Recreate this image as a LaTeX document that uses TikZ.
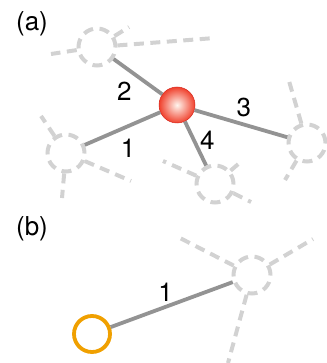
\documentclass[tikz,border=0pt]{standalone}
\usepackage{fontspec}
\setmainfont{TeX Gyre Heros}
\usetikzlibrary{positioning}
\begin{document}
\begin{tikzpicture}[x=1pt,y=-1pt,font=\fontsize{26}{30}\selectfont,
  site/.style={circle,draw=gray!35,line width=4pt,dash pattern=on 10pt off 6.5pt,minimum size=37pt,inner sep=0pt},
  link/.style={draw=gray!35,line width=4pt,dash pattern=on 10pt off 6.5pt},
  bond/.style={draw=gray!85,line width=3.8pt},
  atom/.style={circle,minimum size=36pt,inner sep=0pt,draw={rgb,255:red,215;green,40;blue,30},line width=0.5pt,
    inner color={rgb,255:red,255;green,245;blue,238},outer color={rgb,255:red,240;green,65;blue,45}},
  probe/.style={circle,minimum size=36pt,inner sep=0pt,draw={rgb,255:red,240;green,160;blue,0},line width=3.8pt}]
\useasboundingbox (0,0) rectangle (326,363);
% (a)
\node at (32,24) {(a)};
\node[site] (s2) at (97,47) {};
\node[site] (s1) at (66,153) {};
\node[site] (s4) at (215,184) {};
\node[site] (s3) at (307,143) {};
\coordinate (t1) at (51,54);
\coordinate (t2) at (215,38);
\coordinate (t3) at (129,27);
\coordinate (t4) at (41,116);
\coordinate (t5) at (62,198);
\coordinate (t6) at (289,81);
\coordinate (t7) at (243,160);
\coordinate (t8) at (251,202);
\coordinate (t9) at (285,180);
\coordinate (t13) at (163,161);
\coordinate (t14) at (131,181);
\draw[link] (s2) -- (t1);
\draw[link] (s2) -- (t2);
\draw[link] (s2) -- (t3);
\draw[link] (s1) -- (t4);
\draw[link] (s1) -- (t5);
\draw[link] (s1) -- (t14);
\draw[link] (s3) -- (t6);
\draw[link] (s3) -- (t9);
\draw[link] (s4) -- (t7);
\draw[link] (s4) -- (t8);
\draw[link] (s4) -- (t13);
\node[atom] (ion) at (177,105) {};
\draw[bond] (ion) -- (s1) node[pos=0.5,below right=5pt and -7pt] {1};
\draw[bond] (ion) -- (s2) node[pos=0.5,below left=0pt and 1pt] {2};
\draw[bond] (ion) -- (s3) node[pos=0.45,above right=0pt and -5pt] {3};
\draw[bond] (ion) -- (s4) node[pos=0.42,right=1pt] {4};
% (b)
\node at (32,229) {(b)};
\node[site] (s5) at (252,275) {};
\coordinate (t10) at (178,237);
\coordinate (t11) at (313,239);
\coordinate (t12) at (228,363);
\draw[link] (s5) -- (t10);
\draw[link] (s5) -- (t11);
\draw[link] (s5) -- (t12);
\node[probe] (vac) at (92,334) {};
\draw[bond] (vac) -- (s5) node[pos=0.45,above=0pt] {1};
\end{tikzpicture}
\end{document}
